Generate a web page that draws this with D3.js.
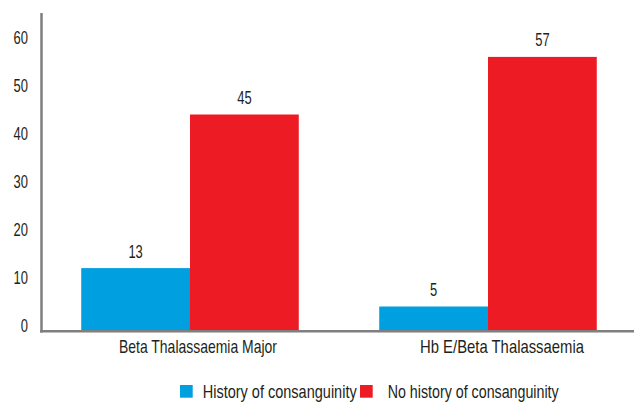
<!DOCTYPE html>
<html><head><meta charset="utf-8">
<script src="https://cdn.jsdelivr.net/npm/d3@7"></script>
<style>body{margin:0;background:#fff}svg{display:block}text{font-family:"Liberation Sans",Arial,sans-serif;fill:#231f20}</style>
</head><body><svg id="c" width="634" height="402"></svg>
<script>
const categories = ["Beta Thalassaemia Major", "Hb E/Beta Thalassaemia"];
const seriesNames = ["History of  consanguinity", "No history of consanguinity"];
const historyValues = [13, 5];
const noHistoryValues = [45, 57];
const yTicks = [0, 10, 20, 30, 40, 50, 60];
const colors = ["#009fe0", "#ed1c24"];

const svg = d3.select("#c");
const FS = 19;
const DIGIT_W = 7.2;
// condense numbers horizontally (the reference uses a narrow face)
function condense(sel) {
  sel.each(function () {
    const n = this.textContent.length;
    d3.select(this).attr("textLength", n * DIGIT_W).attr("lengthAdjust", "spacingAndGlyphs");
  });
}

const x0 = d3.scaleBand().domain(categories).range([41, 637]).paddingInner(0.27).paddingOuter(0.135);
const x1 = d3.scaleBand().domain(seriesNames).range([0, x0.bandwidth()]);
const y = d3.scaleLinear().domain([0, 60]).range([330.5, 42.5]);

const data = categories.map((c, i) => ({cat: c, vals: [historyValues[i], noHistoryValues[i]]}));

const g = svg.selectAll("g.cat").data(data).enter().append("g")
  .attr("transform", d => `translate(${x0(d.cat)},0)`);
g.selectAll("rect").data(d => d.vals.map((v, j) => ({v, s: seriesNames[j], j})))
  .enter().append("rect")
  .attr("x", d => x1(d.s)).attr("width", x1.bandwidth())
  .attr("y", d => y(d.v)).attr("height", d => y(0) - y(d.v))
  .attr("fill", d => colors[d.j]);
const vl = g.selectAll("text.val").data(d => d.vals.map((v, j) => ({v, s: seriesNames[j]})))
  .enter().append("text")
  .attr("x", d => x1(d.s) + x1.bandwidth() / 2).attr("y", d => y(d.v) - 10.5)
  .attr("text-anchor", "middle").attr("font-size", FS).text(d => d.v);
condense(vl);

// y axis
const yAxis = d3.axisLeft(y).tickValues(yTicks).tickSize(0).tickPadding(13.5);
const ya = svg.append("g").attr("transform", "translate(41.5,0)").call(yAxis);
ya.select(".domain").remove();
ya.selectAll("text").attr("font-size", FS).attr("dy", "0.05em").attr("font-family", null).attr("fill", "#231f20");
condense(ya.selectAll("text"));
svg.append("line").attr("x1", 41.5).attr("x2", 41.5).attr("y1", 13).attr("y2", 332.5).attr("stroke", "#7f7f7f").attr("stroke-width", 2.5);

// x axis
const xAxis = d3.axisBottom(x0).tickSize(0);
const xa = svg.append("g").attr("transform", "translate(0,331)").call(xAxis);
xa.select(".domain").remove();
const labelShift = [8, 14];
const labelWidth = [158, 164];
xa.selectAll("text").attr("font-size", FS).attr("font-family", null).attr("fill", "#231f20")
  .attr("y", 21.7).attr("dy", 0).attr("dx", (d, i) => labelShift[i])
  .attr("textLength", (d, i) => labelWidth[i]).attr("lengthAdjust", "spacingAndGlyphs");
svg.append("line").attr("x1", 40).attr("x2", 634).attr("y1", 331.3).attr("y2", 331.3).attr("stroke", "#7f7f7f").attr("stroke-width", 2.5);

// legend
const legendX = [180, 360];
const legendTextX = [22.7, 27.7];
const legendTextW = [154, 171];
const lg = svg.selectAll("g.lg").data(seriesNames).enter().append("g")
  .attr("transform", (d, i) => `translate(${legendX[i]},385)`);
lg.append("rect").attr("width", 12.7).attr("height", 12.7).attr("fill", (d, i) => colors[i]);
lg.append("text").attr("x", (d, i) => legendTextX[i]).attr("y", 12.7).attr("font-size", FS)
  .attr("textLength", (d, i) => legendTextW[i]).attr("lengthAdjust", "spacingAndGlyphs").text(d => d);
</script></body></html>
